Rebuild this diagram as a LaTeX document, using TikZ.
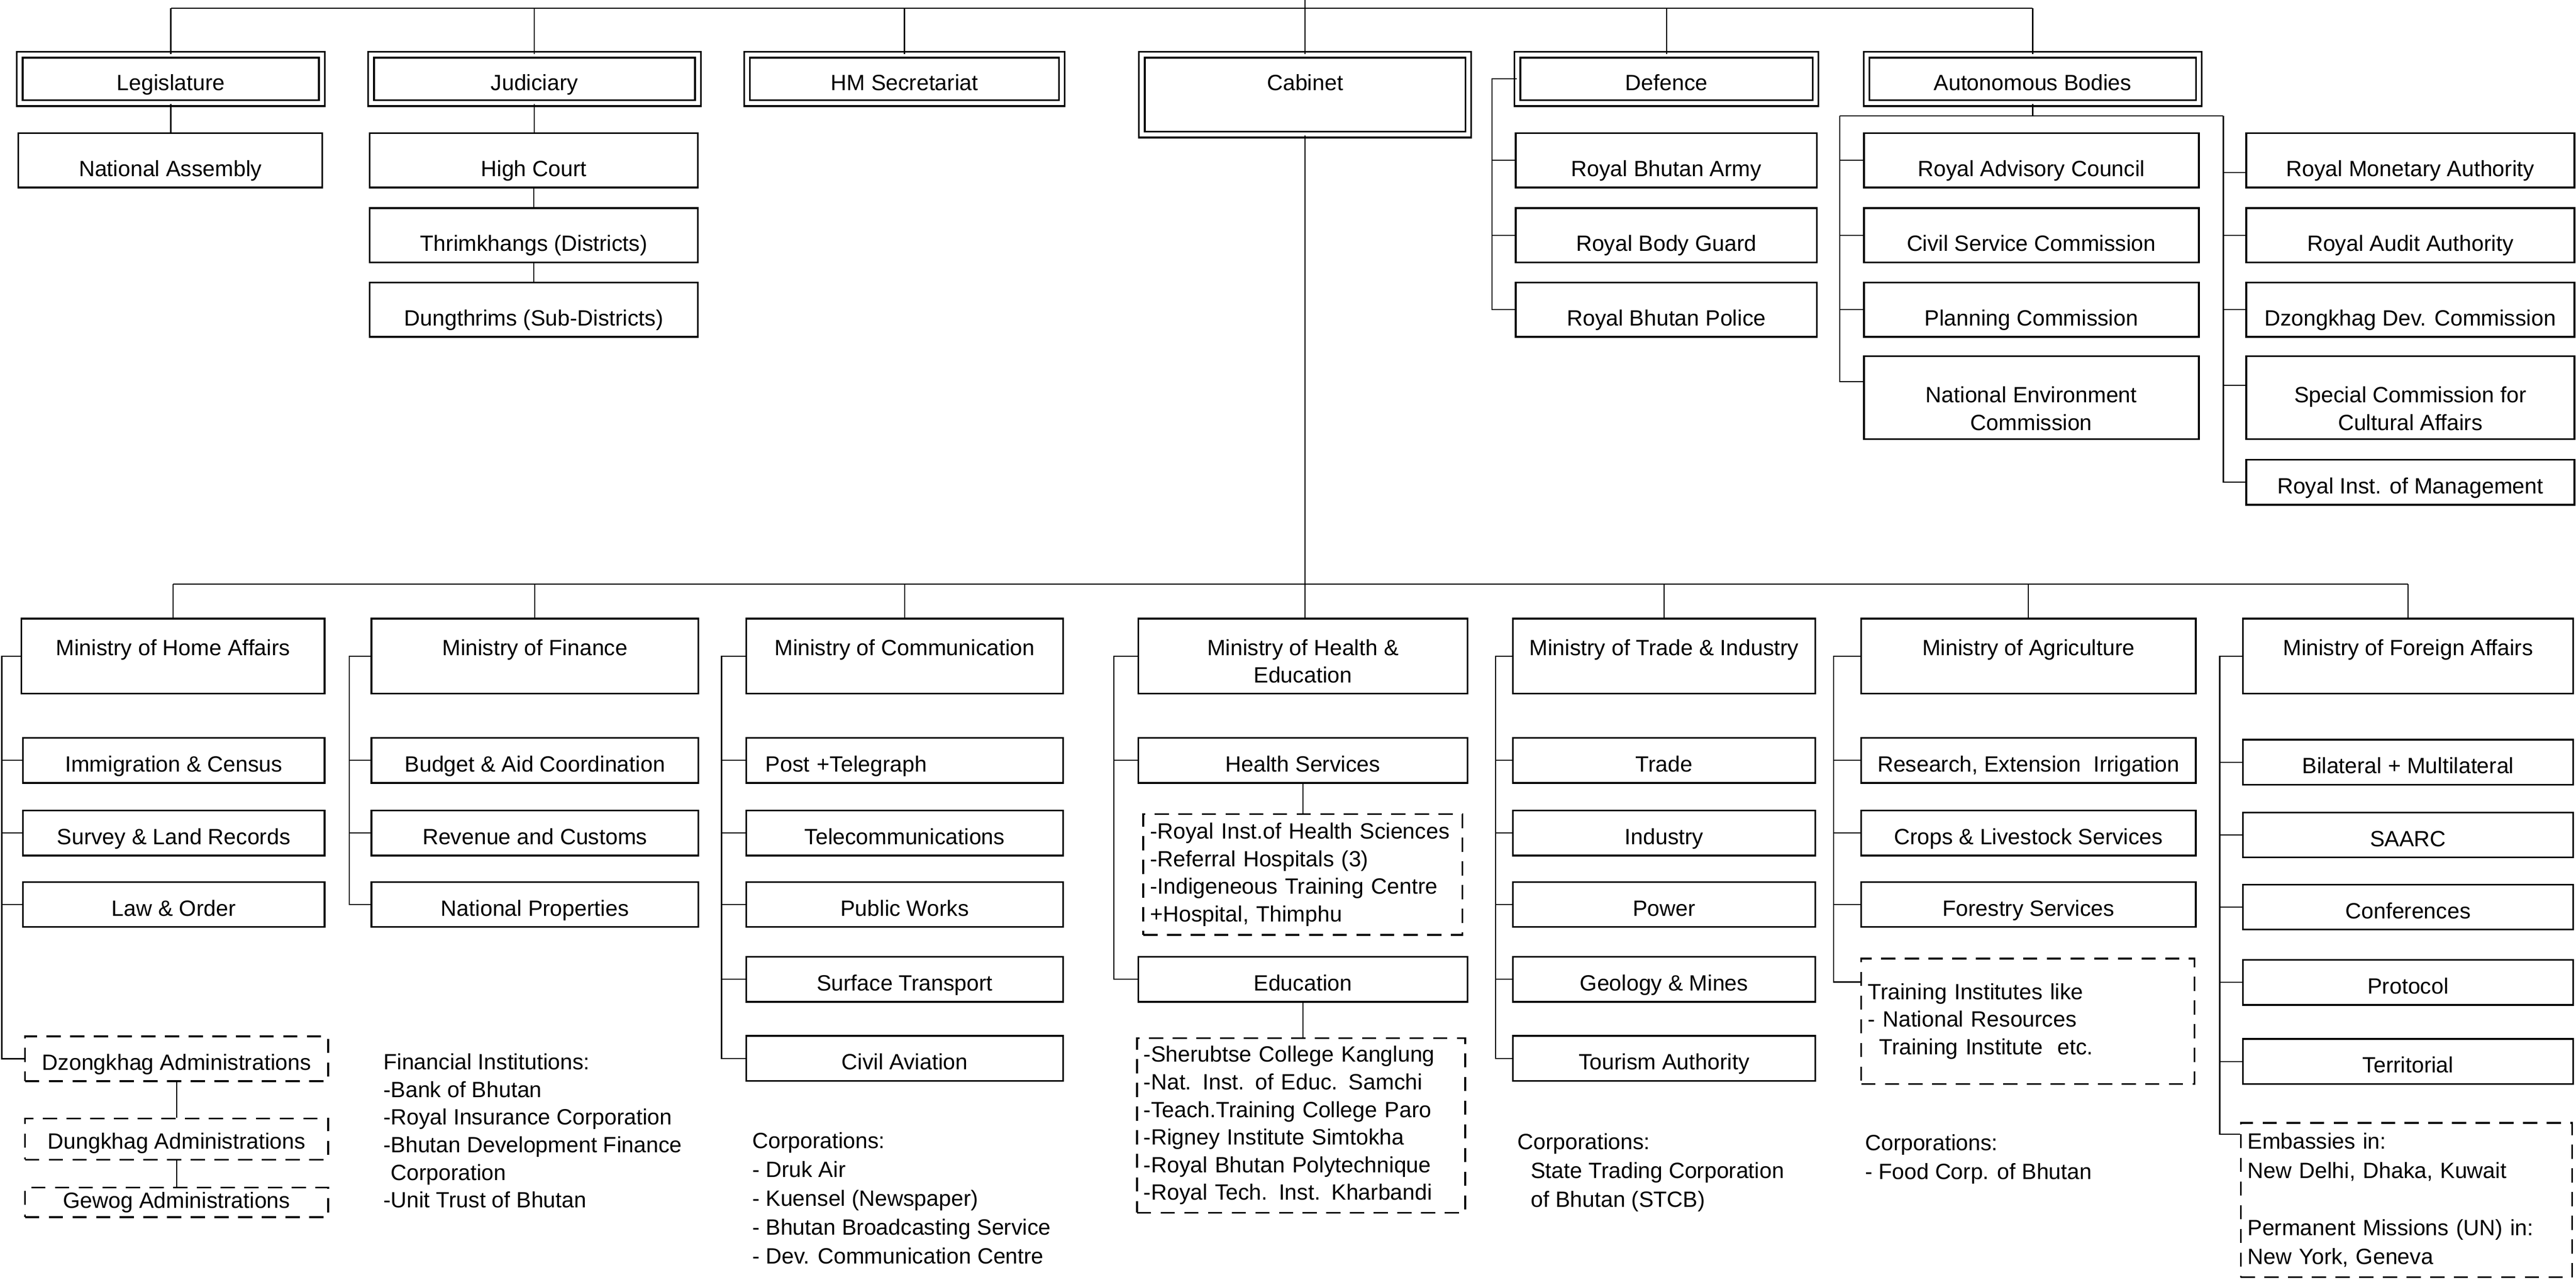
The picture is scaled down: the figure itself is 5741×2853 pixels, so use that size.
\documentclass[tikz,border=0pt]{standalone}
\usepackage{fontspec}
\setmainfont{Liberation Sans}
\usepackage{tikz}
\newcommand{\unitfont}{\fontsize{14}{17.5}\selectfont}
\newcommand{\corpfont}{\fontsize{14}{18.3}\selectfont}
\tikzset{
  unitbox/.style={draw,line width=1.1pt,anchor=north west,inner ysep=0pt,align=center,font=\unitfont,text height=21.5pt,text depth=7pt},
  tallbox/.style={unitbox,text height=27.4pt},
  twolinebox/.style={unitbox,text height=46.9pt,text depth=5.7pt},
  twinbox/.style={unitbox,double,double distance=2.6pt,text height=22.5pt,text depth=8.2pt},
  ministrybox/.style={unitbox,text height=23.3pt,text depth=24.2pt},
  dashbox/.style={unitbox,dash pattern=on 9pt off 6pt},
  listbox/.style={draw,line width=1.1pt,dash pattern=on 9pt off 6pt,anchor=north west,inner xsep=0.15cm,inner ysep=0pt,align=left,font=\unitfont},
  notetext/.style={anchor=north west,inner sep=0pt,align=left,font=\unitfont},
  link/.style={line width=0.7pt}
}

\begin{document}
\begin{tikzpicture}[x=0.01cm,y=-0.01cm]
\useasboundingbox (0,0) rectangle (5741,2853);
    \node[twinbox,minimum width=6.73cm] (leg) at (42,120) {Legislature};
    \node[twinbox,minimum width=7.28cm] (jud) at (825,120) {Judiciary};
    \node[twinbox,minimum width=7.01cm] (hms) at (1663,120) {HM Secretariat};
    \node[twinbox,minimum width=7.27cm,text depth=28.1pt] (cab) at (2543,120) {Cabinet};
    \node[twinbox,minimum width=6.64cm] (def) at (3380,120) {Defence};
    \node[twinbox,minimum width=7.40cm] (aut) at (4158,120) {Autonomous Bodies};

    \node[tallbox,minimum width=6.77cm] (na) at (39,295) {National Assembly};
    \node[tallbox,minimum width=7.31cm] (hc) at (822,295) {High Court};
    \node[tallbox,minimum width=7.31cm] (thr) at (822,462) {Thrimkhangs (Districts)};
    \node[tallbox,minimum width=7.31cm] (dun) at (822,628) {Dungthrims (Sub-Districts)};

    \node[tallbox,minimum width=6.71cm] (rba) at (3376,295) {Royal Bhutan Army};
    \node[tallbox,minimum width=6.71cm] (rbg) at (3376,462) {Royal Body Guard};
    \node[tallbox,minimum width=6.71cm] (rbp) at (3376,628) {Royal Bhutan Police};

    \node[tallbox,minimum width=7.46cm] (rac) at (4152,295) {Royal Advisory Council};
    \node[tallbox,minimum width=7.46cm] (csc) at (4152,462) {Civil Service Commission};
    \node[tallbox,minimum width=7.46cm] (plc) at (4152,628) {Planning Commission};
    \node[twolinebox,minimum width=7.46cm] (nec) at (4152,792) {National Environment\\Commission};
    \node[tallbox,minimum width=7.31cm] (rma) at (5004,295) {Royal Monetary Authority};
    \node[tallbox,minimum width=7.31cm] (raa) at (5004,462) {Royal Audit Authority};
    \node[tallbox,minimum width=7.31cm] (ddc) at (5004,628) {Dzongkhag Dev. Commission};
    \node[twolinebox,minimum width=7.31cm] (scc) at (5004,792) {Special Commission for\\Cultural Affairs};
    \node[unitbox,minimum width=7.31cm] (rim) at (5004,1023) {Royal Inst. of Management};

    \node[ministrybox,minimum width=6.75cm] (mha) at (46,1377) {Ministry of Home Affairs};
    \node[ministrybox,minimum width=7.28cm] (mof) at (826,1377) {Ministry of Finance};
    \node[ministrybox,minimum width=7.06cm] (moc) at (1661,1377) {Ministry of Communication};
    \node[ministrybox,minimum width=7.33cm,text height=40.7pt,text depth=6.8pt] (mhe) at (2535,1377) {Ministry of Health \&\\Education};
    \node[ministrybox,minimum width=6.73cm] (mti) at (3370,1377) {Ministry of Trade \& Industry};
    \node[ministrybox,minimum width=7.45cm] (moa) at (4146,1377) {Ministry of Agriculture};
    \node[ministrybox,minimum width=7.35cm] (mfa) at (4997,1377) {Ministry of Foreign Affairs};

    \node[unitbox,minimum width=6.72cm] (imm) at (49,1643) {Immigration \& Census};
    \node[unitbox,minimum width=6.72cm] (svy) at (49,1805) {Survey \& Land Records};
    \node[unitbox,minimum width=6.72cm] (law) at (49,1964) {Law \& Order};
    \node[dashbox,minimum width=6.75cm] (dzo) at (54,2308) {Dzongkhag Administrations};
    \node[dashbox,minimum width=6.75cm,text height=19.2pt] (dgk) at (54,2491) {Dungkhag Administrations};
    \node[dashbox,minimum width=6.75cm,text height=13pt,text depth=5.8pt] (gew) at (54,2645) {Gewog Administrations};

    \node[unitbox,minimum width=7.28cm] (bud) at (826,1643) {Budget \& Aid Coordination};
    \node[unitbox,minimum width=7.28cm] (rev) at (826,1805) {Revenue and Customs};
    \node[unitbox,minimum width=7.28cm] (nap) at (826,1964) {National Properties};
    \node[notetext] (fin) at (854,2348) {Financial Institutions:\\-Bank of Bhutan\\-Royal Insurance Corporation\\-Bhutan Development Finance\\\phantom{-}Corporation\\-Unit Trust of Bhutan};

    \node[unitbox,align=left,text width=6.2cm,inner xsep=0.43cm] (pst) at (1661,1643) {Post +Telegraph};
    \node[unitbox,minimum width=7.06cm] (tel) at (1661,1805) {Telecommunications};
    \node[unitbox,minimum width=7.06cm] (pwk) at (1661,1964) {Public Works};
    \node[unitbox,minimum width=7.06cm] (stp) at (1661,2131) {Surface Transport};
    \node[unitbox,minimum width=7.06cm] (cav) at (1661,2307) {Civil Aviation};
    \node[notetext,font=\corpfont] (comcorp) at (1676,2523) {Corporations:\\- Druk Air\\- Kuensel (Newspaper)\\- Bhutan Broadcasting Service\\- Dev. Communication Centre};

    \node[unitbox,minimum width=7.33cm] (hsv) at (2535,1643) {Health Services};
    \node[listbox,text width=6.81cm,minimum height=2.69cm] (hsx) at (2546,1813) {-Royal Inst.of Health Sciences\\-Referral Hospitals (3)\\-Indigeneous Training Centre\\+Hospital, Thimphu};
    \node[unitbox,minimum width=7.33cm] (edu) at (2535,2131) {Education};
    \node[listbox,text width=7.01cm,minimum height=3.89cm] (edx) at (2532,2312) {-Sherubtse College Kanglung\\-Nat. Inst. of Educ. Samchi\\-Teach.Training College Paro\\-Rigney Institute Simtokha\\-Royal Bhutan Polytechnique\\-Royal Tech. Inst. Kharbandi};

    \node[unitbox,minimum width=6.73cm] (trd) at (3370,1643) {Trade};
    \node[unitbox,minimum width=6.73cm] (ind) at (3370,1805) {Industry};
    \node[unitbox,minimum width=6.73cm] (pow) at (3370,1964) {Power};
    \node[unitbox,minimum width=6.73cm] (geo) at (3370,2131) {Geology \& Mines};
    \node[unitbox,minimum width=6.73cm] (tou) at (3370,2307) {Tourism Authority};
    \node[notetext,font=\corpfont] (trdcorp) at (3381,2526) {Corporations:\\\hspace*{0.3cm}State Trading Corporation\\\hspace*{0.3cm}of Bhutan (STCB)};

    \node[unitbox,minimum width=7.45cm] (res) at (4146,1643) {Research, Extension~ Irrigation};
    \node[unitbox,minimum width=7.45cm] (crp) at (4146,1805) {Crops \& Livestock Services};
    \node[unitbox,minimum width=7.45cm] (fst) at (4146,1964) {Forestry Services};
    \node[listbox,text width=7.12cm,minimum height=2.79cm] (trn) at (4146,2135) {Training Institutes like\\- National Resources\\\hspace*{0.25cm}Training Institute~ etc.};
    \node[notetext,font=\corpfont] (agrcorp) at (4156,2528) {Corporations:\\- Food Corp. of Bhutan};

    \node[unitbox,minimum width=7.35cm] (bil) at (4997,1647) {Bilateral + Multilateral};
    \node[unitbox,minimum width=7.35cm] (saa) at (4997,1809) {SAARC};
    \node[unitbox,minimum width=7.35cm] (cnf) at (4997,1970) {Conferences};
    \node[unitbox,minimum width=7.35cm] (ptc) at (4997,2138) {Protocol};
    \node[unitbox,minimum width=7.35cm] (ter) at (4997,2314) {Territorial};
    \node[listbox,text width=7.08cm,minimum height=3.44cm,font=\corpfont] (emb) at (4992,2501) {Embassies in:\\New Delhi, Dhaka, Kuwait\\[18pt]Permanent Missions (UN) in:\\New York, Geneva};

    \coordinate (crown) at (0,0);
    \coordinate (topbus) at (0,18);
    \draw[link] (leg.north |- topbus) -- (aut.north |- topbus);
    \draw[link] (leg.north) -- (leg.north |- topbus);
    \draw[link] (jud.north) -- (jud.north |- topbus);
    \draw[link] (hms.north) -- (hms.north |- topbus);
    \draw[link] (cab.north) -- (cab.north |- crown);
    \draw[link] (def.north) -- (def.north |- topbus);
    \draw[link] (aut.north) -- (aut.north |- topbus);

    \draw[link] (leg.south) -- (leg.south |- na.north);
    \draw[link] (jud.south) -- (jud.south |- hc.north);
    \draw[link] (hc.south) -- (thr.north);
    \draw[link] (thr.south) -- (dun.north);

    \draw[link] (def.west) -- ++(-55,0) coordinate (defbus) |- (rbp.west);
    \draw[link] (defbus) |- (rba.west);
    \draw[link] (defbus) |- (rbg.west);

    \coordinate (autl) at (4100,258);
    \coordinate (autr) at (4955,258);
    \draw[link] (aut.south) -- (aut.south |- autl);
    \draw[link] (autl) -- (autr);
    \draw[link] (autl) |- (rac.west);
    \draw[link] (autl) |- (csc.west);
    \draw[link] (autl) |- (plc.west);
    \draw[link] (autl) |- ([yshift=0.36cm]nec.west);
    \draw[link] (autr) |- ([yshift=-0.27cm]rma.west);
    \draw[link] (autr) |- (raa.west);
    \draw[link] (autr) |- (ddc.west);
    \draw[link] (autr) |- ([yshift=0.28cm]scc.west);
    \draw[link] (autr) |- (rim.west);

    \coordinate (minbus) at (0,1302);
    \draw[link] (cab.south) -- (cab.south |- mhe.north);
    \draw[link] (mha.north |- minbus) -- (mfa.north |- minbus);
    \draw[link] (mha.north) -- (mha.north |- minbus);
    \draw[link] (mof.north) -- (mof.north |- minbus);
    \draw[link] (moc.north) -- (moc.north |- minbus);
    \draw[link] (mti.north) -- (mti.north |- minbus);
    \draw[link] (moa.north) -- (moa.north |- minbus);
    \draw[link] (mfa.north) -- (mfa.north |- minbus);

    \draw[link] (mha.west) -- ++(-42,0) coordinate (homebus) |- (dzo.west);
    \draw[link] (homebus) |- (imm.west);
    \draw[link] (homebus) |- (svy.west);
    \draw[link] (homebus) |- (law.west);
    \draw[link] (dzo.south) -- (dgk.north);
    \draw[link] (dgk.south) -- (gew.north);

    \draw[link] (mof.west) -- ++(-48,0) coordinate (finbus) |- (nap.west);
    \draw[link] (finbus) |- (bud.west);
    \draw[link] (finbus) |- (rev.west);

    \draw[link] (moc.west) -- ++(-53,0) coordinate (combus) |- (cav.west);
    \draw[link] (combus) |- (pst.west);
    \draw[link] (combus) |- (tel.west);
    \draw[link] (combus) |- (pwk.west);
    \draw[link] (combus) |- (stp.west);

    \draw[link] (mhe.west) -- ++(-53,0) coordinate (heabus) |- (edu.west);
    \draw[link] (heabus) |- (hsv.west);
    \draw[link] (hsv.south) -- (hsv.south |- hsx.north);
    \draw[link] (edu.south) -- (edu.south |- edx.north);

    \draw[link] (mti.west) -- ++(-37,0) coordinate (trdbus) |- (tou.west);
    \draw[link] (trdbus) |- (trd.west);
    \draw[link] (trdbus) |- (ind.west);
    \draw[link] (trdbus) |- (pow.west);
    \draw[link] (trdbus) |- (geo.west);

    \draw[link] (moa.west) -- ++(-60,0) coordinate (agrbus) |- ([yshift=-0.54cm]trn.north west);
    \draw[link] (agrbus) |- (res.west);
    \draw[link] (agrbus) |- (crp.west);
    \draw[link] (agrbus) |- (fst.west);

    \draw[link] (mfa.west) -- ++(-50,0) coordinate (forbus) |- ([yshift=-0.27cm]emb.north west);
    \draw[link] (forbus) |- (bil.west);
    \draw[link] (forbus) |- (saa.west);
    \draw[link] (forbus) |- (cnf.west);
    \draw[link] (forbus) |- (ptc.west);
    \draw[link] (forbus) |- (ter.west);
\end{tikzpicture}
\end{document}
